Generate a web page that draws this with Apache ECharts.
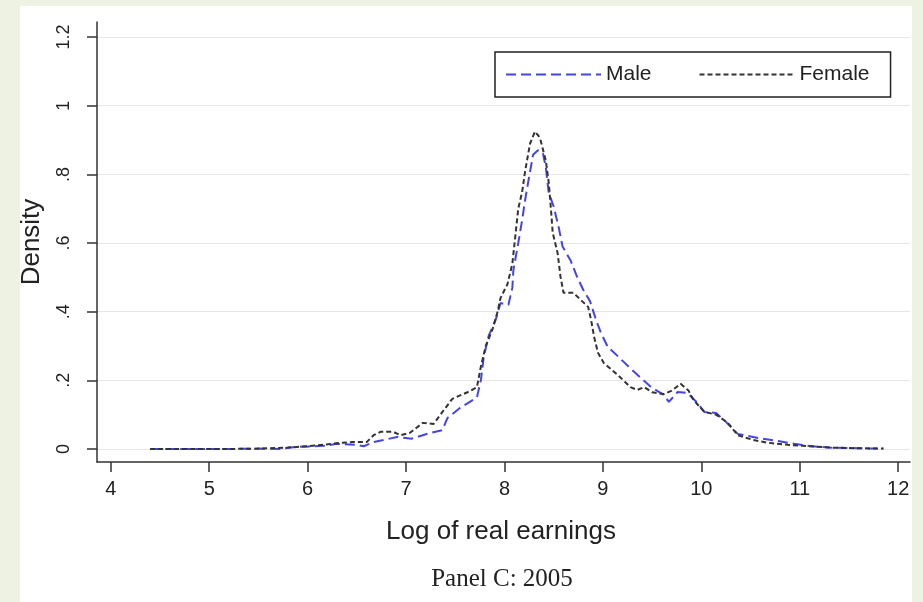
<!DOCTYPE html>
<html>
<head>
<meta charset="utf-8">
<script src="https://cdn.jsdelivr.net/npm/echarts@6/dist/echarts.min.js"></script>
<style>
html,body{margin:0;padding:0;background:#eef2e3;}
#c{width:923px;height:602px;}
</style>
</head>
<body>
<div id="c"></div>
<script>
// Data (log of real earnings, density)
const xTicks = [4, 5, 6, 7, 8, 9, 10, 11, 12];
const yTicks = [0, 0.2, 0.4, 0.6, 0.8, 1, 1.2];
const yTickLabels = ['0', '.2', '.4', '.6', '.8', '1', '1.2'];

const maleX = [4.40, 4.8, 5.2, 5.5, 5.72, 5.89, 6.16, 6.30, 6.50, 6.57, 6.67, 6.77, 6.91, 7.06, 7.25, 7.37, 7.42, 7.55, 7.72, 7.76, 7.79, 7.84, 7.91, 7.96, 8.04, 8.08, 8.09, 8.14, 8.18, 8.21, 8.24, 8.29, 8.34, 8.39, 8.42, 8.45, 8.50, 8.55, 8.59, 8.67, 8.74, 8.80, 8.87, 8.93, 8.98, 9.05, 9.16, 9.26, 9.35, 9.49, 9.62, 9.67, 9.76, 9.86, 9.96, 10.03, 10.15, 10.25, 10.37, 10.58, 10.78, 10.94, 11.08, 11.3, 11.6, 11.85];
const maleY = [0, 0, 0, 0.001, 0.0, 0.006, 0.009, 0.015, 0.012, 0.008, 0.02, 0.026, 0.035, 0.03, 0.047, 0.055, 0.09, 0.12, 0.15, 0.20, 0.27, 0.33, 0.376, 0.425, 0.42, 0.47, 0.52, 0.60, 0.668, 0.726, 0.776, 0.857, 0.87, 0.863, 0.82, 0.746, 0.706, 0.647, 0.59, 0.55, 0.50, 0.464, 0.43, 0.376, 0.338, 0.297, 0.268, 0.24, 0.216, 0.18, 0.157, 0.137, 0.166, 0.163, 0.134, 0.108, 0.105, 0.079, 0.044, 0.032, 0.023, 0.015, 0.009, 0.004, 0.002, 0.001];

const femaleX = [4.40, 4.8, 5.2, 5.5, 5.8, 6.0, 6.16, 6.33, 6.46, 6.6, 6.67, 6.74, 6.87, 6.94, 7.04, 7.17, 7.28, 7.37, 7.47, 7.63, 7.72, 7.76, 7.81, 7.88, 7.93, 7.96, 8.03, 8.08, 8.11, 8.14, 8.18, 8.21, 8.26, 8.31, 8.36, 8.42, 8.45, 8.47, 8.49, 8.54, 8.57, 8.60, 8.70, 8.79, 8.85, 8.88, 8.91, 8.95, 9.01, 9.15, 9.28, 9.35, 9.42, 9.5, 9.62, 9.70, 9.79, 9.87, 9.92, 10.03, 10.15, 10.27, 10.37, 10.53, 10.68, 10.88, 11.04, 11.3, 11.6, 11.85];
const femaleY = [0, 0, 0, 0.001, 0.004, 0.008, 0.012, 0.018, 0.02, 0.02, 0.04, 0.05, 0.05, 0.04, 0.047, 0.076, 0.073, 0.108, 0.146, 0.166, 0.18, 0.24, 0.30, 0.35, 0.40, 0.44, 0.48, 0.54, 0.62, 0.70, 0.75, 0.81, 0.89, 0.925, 0.907, 0.84, 0.776, 0.706, 0.63, 0.57, 0.50, 0.455, 0.455, 0.43, 0.414, 0.376, 0.327, 0.28, 0.25, 0.216, 0.18, 0.172, 0.18, 0.165, 0.16, 0.17, 0.19, 0.17, 0.143, 0.108, 0.10, 0.076, 0.04, 0.026, 0.018, 0.012, 0.009, 0.004, 0.002, 0.001];

const pairs = (xs, ys) => xs.map((x, i) => [x, ys[i]]);

const chart = echarts.init(document.getElementById('c'), null, {renderer: 'canvas'});
const sans = 'Liberation Sans, Arial, sans-serif';
chart.setOption({
  backgroundColor: '#eef2e3',
  animation: false,
  graphic: [{
    type: 'rect', z: -10, silent: true,
    shape: {x: 20, y: 6, width: 892, height: 596},
    style: {fill: '#ffffff'}
  }],
  title: [
    {text: 'Log of real earnings', left: 501, top: 519, textAlign: 'center',
     textStyle: {fontFamily: sans, fontSize: 26, fontWeight: 'normal', color: '#222'}, padding: 0},
    {text: 'Panel C: 2005', left: 502, top: 567, textAlign: 'center',
     textStyle: {fontFamily: 'Liberation Serif, Times New Roman, serif', fontSize: 25, fontWeight: 'normal', color: '#222'}, padding: 0}
  ],
  legend: {
    left: 495, top: 52,
    itemWidth: 95, itemHeight: 14, itemGap: 47,
    padding: [12, 21, 12, 10],
    borderColor: '#222', borderWidth: 1.5, backgroundColor: '#fff',
    itemStyle: {opacity: 0},
    textStyle: {fontFamily: sans, fontSize: 21, color: '#222'},
    data: ['Male', 'Female']
  },
  grid: {left: 97, right: 13, top: 22, bottom: 140},
  xAxis: {
    type: 'value', min: 3.86, max: 12.12,
    axisLine: {show: true, onZero: false, lineStyle: {color: '#333', width: 1.5}},
    axisTick: {show: true, length: 10, lineStyle: {color: '#333', width: 1.5}, customValues: xTicks},
    axisLabel: {customValues: xTicks, margin: 17, fontFamily: sans, fontSize: 20, color: '#222'},
    splitLine: {show: false}
  },
  yAxis: {
    type: 'value', min: -0.038, max: 1.244,
    name: 'Density', nameLocation: 'middle', nameGap: 52,
    nameTextStyle: {fontFamily: sans, fontSize: 26, color: '#222'},
    axisLine: {show: true, onZero: false, lineStyle: {color: '#333', width: 1.5}},
    axisTick: {show: true, length: 10, lineStyle: {color: '#333', width: 1.5}, customValues: yTicks},
    axisLabel: {customValues: yTicks, rotate: 90, margin: 24, fontFamily: sans, fontSize: 18, color: '#222',
      formatter: v => { const i = yTicks.findIndex(t => Math.abs(t - v) < 1e-6); return i >= 0 ? yTickLabels[i] : ''; }},
    splitLine: {show: true, lineStyle: {color: '#e6e6e6', width: 1}}
  },
  series: [
    {name: 'Male', type: 'line', symbol: 'none', data: pairs(maleX, maleY),
     lineStyle: {color: '#4545e6', width: 2, type: [10, 5]}, itemStyle: {color: '#4545e6'}},
    {name: 'Female', type: 'line', symbol: 'none', data: pairs(femaleX, femaleY),
     lineStyle: {color: '#333333', width: 2, type: [5, 3]}, itemStyle: {color: '#333333'}}
  ]
});
</script>
</body>
</html>
